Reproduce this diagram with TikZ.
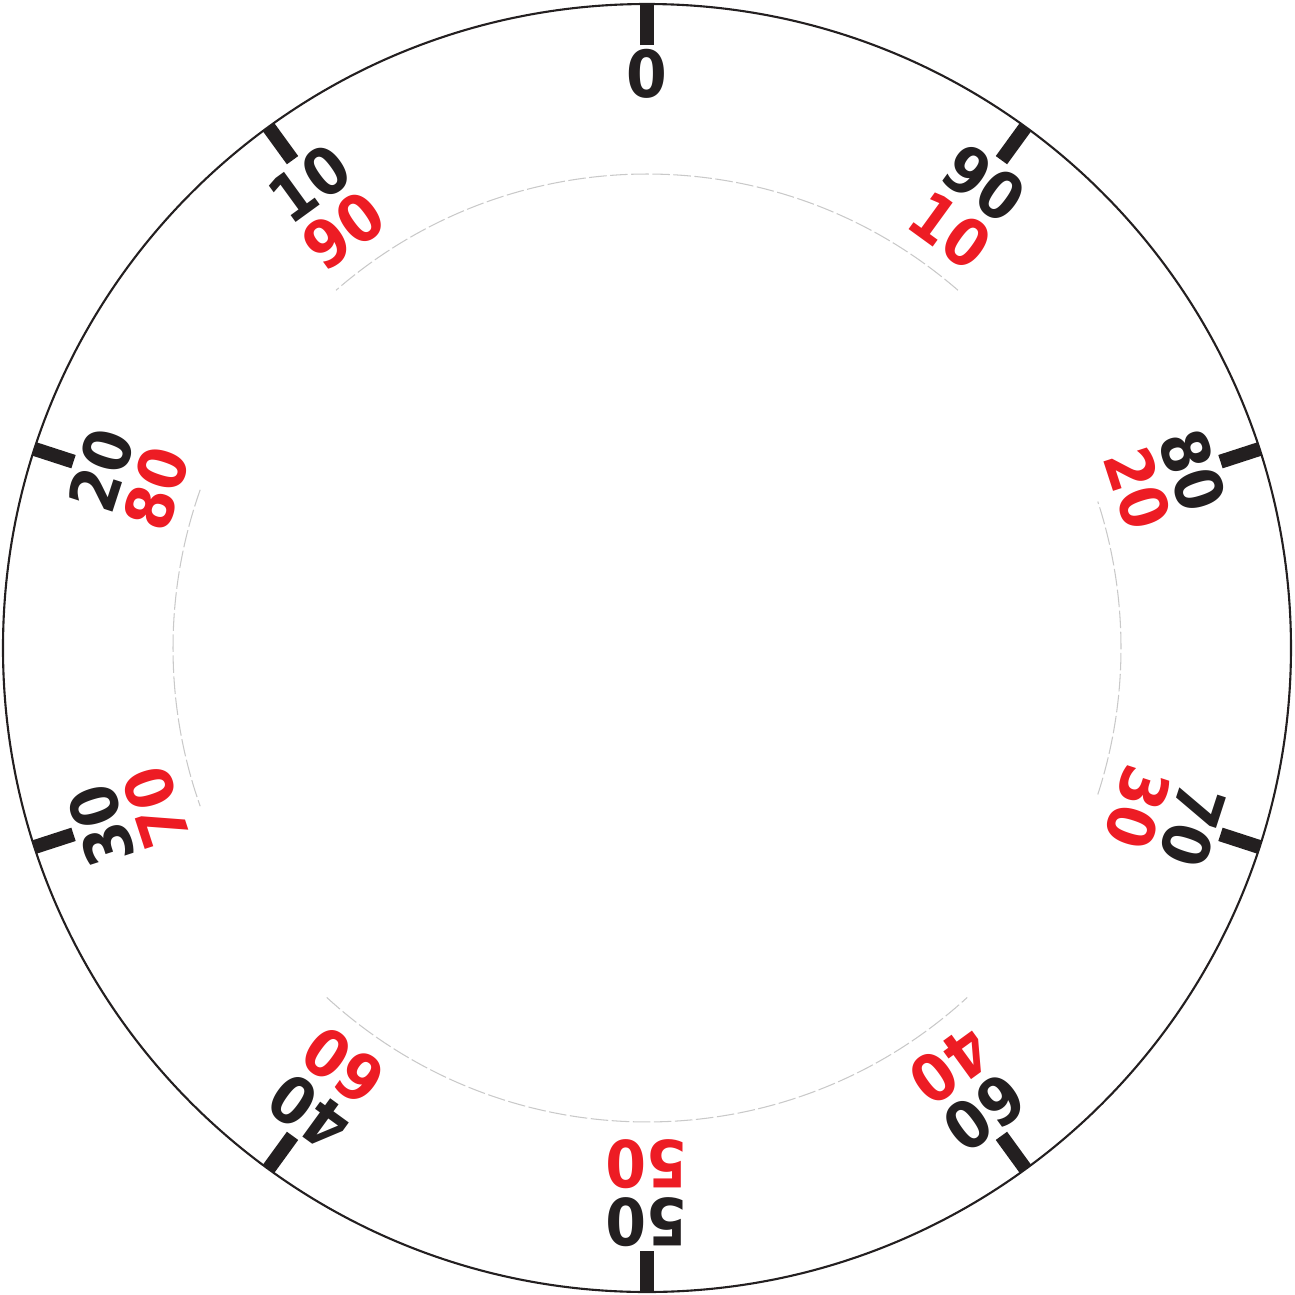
\documentclass[tikz,border=0pt]{standalone}
\usepackage{fontspec}
\setmainfont{DejaVu Sans}[FakeStretch=0.9]
\usepackage{tikz}
\usetikzlibrary{calc}
\usepackage{xcolor}
\definecolor{Ink}{HTML}{231F20}
\definecolor{Signal}{HTML}{ED1C24}
\definecolor{Faint}{HTML}{C9C9C9}
\tikzset{
  rim/.style={draw=Ink, line width=0.6pt},
  guide/.style={draw=Faint, line width=0.3pt, dash pattern=on 5pt off 1pt},
  tickmark/.style={draw=Ink, line width=0.14cm},
  outnum/.style={text=Ink, inner sep=0pt, font=\fontsize{18.5}{18.5}\selectfont\bfseries},
  innum/.style={outnum, text=Signal}
}
\begin{document}
\begin{tikzpicture}
\useasboundingbox (-6.47,-6.47) rectangle (6.48,6.48);
\draw[rim] (0,0) circle (6.44);
% faint inner ring, broken near the labels
\foreach \a/\b in {-18/18,49/131,160.5/199.5,227.5/312.5}
  \draw[guide] (\a:4.74) arc[start angle=\a, end angle=\b, radius=4.74];
\foreach \k in {0,...,9} {
  \pgfmathsetmacro\ang{90+36*\k}
  \pgfmathtruncatemacro\val{10*\k}
  \draw[tickmark] (\ang:6.03) -- (\ang:6.44);
  \node[outnum, rotate=\ang-90] (n\k) at (\ang:5.74) {\val};
}
\foreach \k in {1,...,9} {
  \pgfmathsetmacro\ang{90+36*\k}
  \pgfmathtruncatemacro\val{100-10*\k}
  \node[innum, rotate=\ang-90] (r\k) at (\ang:5.16) {\val};
}
\end{tikzpicture}
\end{document}
